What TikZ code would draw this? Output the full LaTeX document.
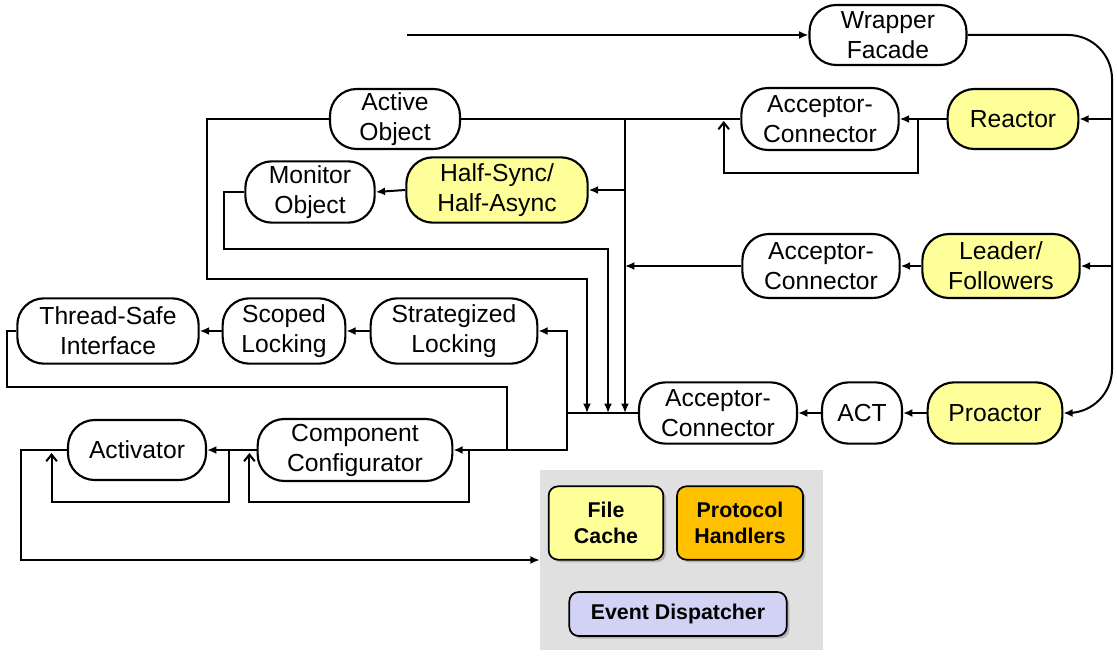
\documentclass[tikz,border=0pt]{standalone}
\usepackage{fontspec}
\setmainfont{Liberation Sans}
\usetikzlibrary{arrows.meta}
\usetikzlibrary{shadows}
\definecolor{patyellow}{RGB}{255,255,153}
\definecolor{protorange}{RGB}{255,192,0}
\definecolor{dispviolet}{RGB}{210,210,245}
\definecolor{panelgray}{RGB}{224,224,224}

\begin{document}
\begin{tikzpicture}[x=0.75pt,y=0.75pt,yscale=-1,xscale=1,
  pat/.style={draw, line width=1.6pt, rounded corners=20pt, fill=white, align=center, inner sep=0pt, font=\fontsize{18.5}{22.5}\selectfont},
  hot/.style={pat, fill=patyellow},
  wire/.style={line width=1.5pt},
  flow/.style={line width=1.5pt, -{Latex[length=7pt,width=6pt]}},
  selfflow/.style={line width=1.5pt, -{Straight Barb[length=5pt,width=8pt]}},
  part/.style={draw, line width=1.3pt, rounded corners=7pt, align=center, inner sep=0pt, font=\bfseries\fontsize{16}{19.5}\selectfont, drop shadow={shadow xshift=2pt, shadow yshift=-2pt, opacity=0.45}}]
\useasboundingbox (0,0) rectangle (1117,656);

%Shape: Server Panel
\node [fill=panelgray, minimum width=212.25pt, minimum height=135pt, inner sep=0pt] (server) at (681.5,560) {};
\node [part, fill=patyellow, minimum width=86pt, minimum height=55pt] (filecache) at (606,523) {File\\Cache};
\node [part, fill=protorange, minimum width=94.5pt, minimum height=55pt] (protocol) at (740,523) {Protocol\\Handlers};
\node [part, fill=dispviolet, minimum width=163pt, minimum height=33pt] (evdisp) at (678,614) {Event Dispatcher};

% Text Node
\node [pat, minimum width=117.75pt, minimum height=45pt] (wrap) at (888,35) {Wrapper\\Facade};
\node [pat, minimum width=97.5pt, minimum height=45pt] (active) at (395,119) {Active\\Object};
\node [pat, minimum width=118pt, minimum height=46.5pt] (acc1) at (820,119) {Acceptor-\\Connector};
\node [hot, minimum width=98pt, minimum height=45pt] (reactor) at (1013,119) {Reactor};
\node [pat, minimum width=97pt, minimum height=46pt] (monitor) at (310,192) {Monitor\\Object};
\node [hot, minimum width=136pt, minimum height=49pt] (halfsync) at (497,190) {Half-Sync/\\Half-Async};
\node [pat, minimum width=118pt, minimum height=48pt] (acc2) at (821,266) {Acceptor-\\Connector};
\node [hot, minimum width=118pt, minimum height=48pt] (leader) at (1001,266) {Leader/\\Followers};
\node [pat, minimum width=136pt, minimum height=49pt] (tsi) at (108,331) {Thread-Safe\\Interface};
\node [pat, minimum width=92pt, minimum height=49pt] (scoped) at (284,331) {Scoped\\Locking};
\node [pat, minimum width=125pt, minimum height=49pt] (strat) at (454,331) {Strategized\\Locking};
\node [pat, minimum width=118.5pt, minimum height=46pt] (acc3) at (718,413) {Acceptor-\\Connector};
\node [pat, minimum width=60pt, minimum height=46pt] (act) at (862,413) {ACT};
\node [hot, minimum width=101pt, minimum height=46pt] (proactor) at (995,413) {Proactor};
\node [pat, minimum width=103.5pt, minimum height=45pt] (activator) at (137,450) {Activator};
\node [pat, minimum width=146pt, minimum height=46.5pt] (compconf) at (355,450) {Component\\Configurator};

\coordinate (input) at (407,35);
\coordinate (rail) at (1112,35);
\coordinate (busA) at (625,119);
\coordinate (busB) at (587,279);
\coordinate (busC) at (608,249);
\coordinate (busD) at (567,413);
\coordinate (joinT) at (507,450);

%Straight Lines
\draw [flow] (input) -- (wrap.west);
\draw [flow, rounded corners=33pt] (wrap.east) -| (rail |- proactor.east) -- (proactor.east);
\draw [flow] (rail |- reactor.east) -- (reactor.east);
\draw [flow] (rail |- leader.east) -- (leader.east);
\draw [flow] (reactor.west) -- (acc1.east);
\draw [selfflow] (acc1.east) ++(18,0) -- ++(0,54) -- ++(-194,0) -- ++(0,-52);
\draw [flow] (leader.west) -- (acc2.east);
\draw [flow] (proactor.west) -- (act.east);
\draw [flow] (act.west) -- (acc3.east);

%Straight Lines
\draw [wire] (acc1.west) -- (active.east);
\draw [flow] (busA) -- (busA |- acc3.west);
\draw [flow] (halfsync.east -| busA) -- (halfsync.east);
\draw [flow] (acc2.west) -- (acc2.west -| busA);
\draw [flow] (halfsync.west) -- (monitor.east);
\draw [flow] (active.west) -| (207,279) -- (busB) -- (busB |- acc3.west);
\draw [flow] (monitor.west) -| (224,249) -- (busC) -- (busC |- acc3.west);

%Straight Lines
\draw [wire] (acc3.west) -- (busD);
\draw [flow] (busD) |- (strat.east);
\draw [flow] (busD) |- (compconf.east);
\draw [flow] (strat.west) -- (scoped.east);
\draw [flow] (scoped.west) -- (tsi.east);
\draw [wire] (tsi.west) -| (7,387) -| (joinT);

%Straight Lines
\draw [flow] (compconf.west) -- (activator.east);
\draw [selfflow] (compconf.west) ++(-28,0) -- ++(0,52) -- ++(-177,0) -- ++(0,-49);
\draw [selfflow] (compconf.east) ++(16,0) -- ++(0,52) -- ++(-220,0) -- ++(0,-49);
\draw [flow] (activator.west) -| (21,560) -- (server.west);

\end{tikzpicture}
\end{document}
